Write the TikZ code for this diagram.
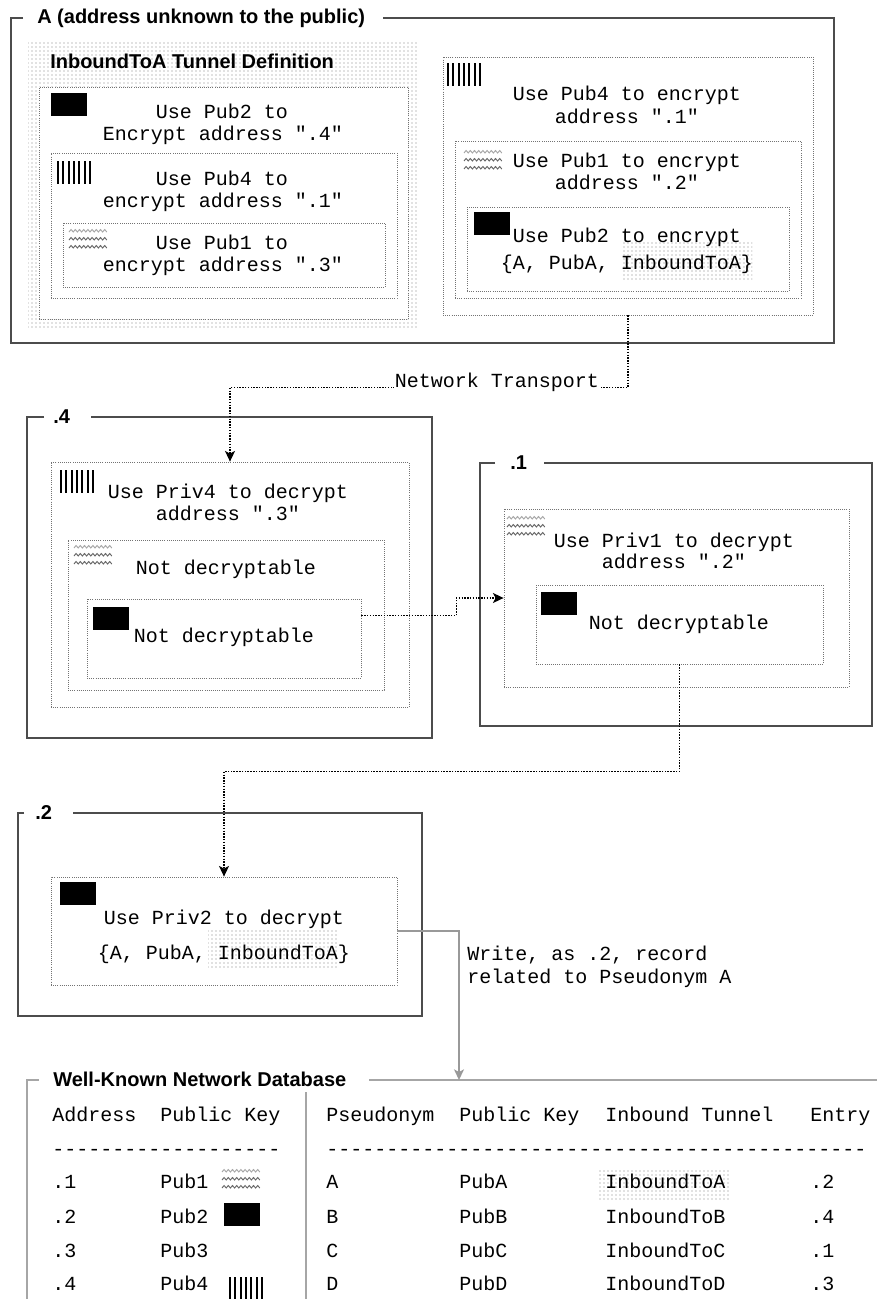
\documentclass[tikz,border=0pt]{standalone}
\usepackage{fontspec}
\newfontfamily\monof{Liberation Mono}
\newfontfamily\titlef{Liberation Sans}
\usetikzlibrary{arrows.meta,patterns,fit,calc}
\tikzset{
  mt/.style={font=\monof\fontsize{15}{18}\selectfont, inner sep=0pt, anchor=base},
  mtl/.style={mt, anchor=base west},
  ttl/.style={font=\titlef\bfseries\fontsize{15}{18}\selectfont, inner sep=0pt, anchor=base west},
  frm/.style={draw=black!70, line width=1.1pt},
  dbfrm/.style={draw=black!35, line width=1.1pt},
  dbox/.style={draw=black!55, densely dotted, line width=0.6pt, fill=white, inner sep=0pt},
  hl/.style={inner sep=0pt, pattern=dots, pattern color=black!50},
  conn/.style={draw=black, line width=1.2pt, dash pattern=on 1.1pt off 1pt, -{Stealth[length=8pt,width=7.5pt,inset=2pt]}},
  gconn/.style={draw=black!40, line width=1.1pt, -{Stealth[length=8pt,width=7.5pt,inset=2pt]}},
  hid/.style={inner sep=0pt}
}
\newcommand\keyblk[1]{\fill[black] (#1) rectangle ++(36,23);}
\newcommand\keybar[1]{\begin{scope}[shift={(#1)}]\foreach \i in {0,...,6}{\draw[line width=1.5pt] (\i*5.3+1,0) -- (\i*5.3+1,23);}\end{scope}}
\newcommand\keywav[1]{\begin{scope}[shift={(#1)}]
  \foreach \r/\c in {4/black!35,12/black!60,20/black!60}{\draw[color=\c, line width=0.7pt] (0,\r) \foreach \k in {0,...,8}{ -- ++(2.1,-2.5) -- ++(2.1,2.5)};}
  \end{scope}}
\begin{document}
\begin{tikzpicture}[x=0.75pt,y=-0.75pt]
\useasboundingbox (0,0) rectangle (877,1299);

% ===== Frame A =====
\node[hid, fit={(11,18) (834,343)}] (A) {};
\draw[frm] (23,18) -- (11,18) -- (11,343) -- (834,343) -- (834,18) -- (383,18);
\node[ttl] (tA) at (37,23) {A (address unknown to the public)};

% InboundToA tunnel definition
\node[hl, fit={(28,42) (418,328)}] (tun) {};
\node[ttl] (tTun) at (50,68) {InboundToA Tunnel Definition};
\node[dbox, fit={(39,87) (408,319)}] (l1) {};
\node[dbox, fit={(51,153) (397,298)}] (l2) {};
\node[dbox, fit={(63,223) (385,287)}] (l3) {};
\keyblk{51,93}
\keybar{57,161}
\keywav{69,228}
\node[mt] (l1a) at (222,118) {Use Pub2 to};
\node[mt] (l1b) at (223,140) {Encrypt address ".4"};
\node[mt] (l2a) at (222,185) {Use Pub4 to};
\node[mt] (l2b) at (223,207) {encrypt address ".1"};
\node[mt] (l3a) at (222,249) {Use Pub1 to};
\node[mt] (l3b) at (223,271) {encrypt address ".3"};

% right nested message
\node[dbox, fit={(443,57) (813,315)}] (r1) {};
\node[dbox, fit={(455,141) (801,298)}] (r2) {};
\node[dbox, fit={(467,207) (789,291)}] (r3) {};
\keybar{447,63}
\keywav{464,149}
\keyblk{474,212}
\node[hl, fit={(621,242) (752,280)}] (hl1) {};
\node[mt] (r1a) at (627,100) {Use Pub4 to encrypt};
\node[mt] (r1b) at (627,123) {address ".1"};
\node[mt] (r2a) at (627,167) {Use Pub1 to encrypt};
\node[mt] (r2b) at (627,189) {address ".2"};
\node[mt] (r3a) at (627,242) {Use Pub2 to encrypt};
\node[mt] (r3b) at (627,269) {\{A, PubA, InboundToA\}};

% ===== Frame .4 =====
\node[hid, fit={(27,417) (432,738)}] (F4) {};
\draw[frm] (44,417) -- (27,417) -- (27,738) -- (432,738) -- (432,417) -- (91,417);
\node[ttl] (t4) at (53,423) {.4};
\node[dbox, fit={(51,462) (409,707)}] (p4a) {};
\node[dbox, fit={(68,540) (384,690)}] (p4b) {};
\node[dbox, fit={(87,599) (361,678)}] (p4c) {};
\keybar{60,470}
\keywav{74,544}
\keyblk{93,607}
\node[mt] (p4a1) at (228,498) {Use Priv4 to decrypt};
\node[mt] (p4a2) at (228,520) {address ".3"};
\node[mt] (p4b1) at (226,574) {Not decryptable};
\node[mt] (p4c1) at (224,642) {Not decryptable};

% ===== Frame .1 =====
\node[hid, fit={(480,463) (872,726)}] (F1) {};
\draw[frm] (495,463) -- (480,463) -- (480,726) -- (872,726) -- (872,463) -- (544,463);
\node[ttl] (t1) at (510,469) {.1};
\node[dbox, fit={(504,509) (849,687)}] (p1a) {};
\node[dbox, fit={(536,585) (823,664)}] (p1b) {};
\keywav{507,515}
\keyblk{541,592}
\node[mt] (p1a1) at (674,547) {Use Priv1 to decrypt};
\node[mt] (p1a2) at (674,568) {address ".2"};
\node[mt] (p1b1) at (679,629) {Not decryptable};

% ===== Frame .2 =====
\node[hid, fit={(18,813) (422,1016)}] (F2) {};
\draw[frm] (24,813) -- (18,813) -- (18,1016) -- (422,1016) -- (422,813) -- (73,813);
\node[ttl] (t2) at (35,819) {.2};
\node[dbox, fit={(51,877) (397,985)}] (p2a) {};
\keyblk{60,882}
\node[hl, fit={(208,930) (337,967)}] (hl2) {};
\node[mt] (p2a1) at (224,924) {Use Priv2 to decrypt};
\node[mt] (p2a2) at (224,959) {\{A, PubA, InboundToA\}};

% ===== Database =====
\coordinate (dbtop) at (459,1080);
\draw[dbfrm] (39,1080) -- (27,1080) -- (27,1299);
\draw[dbfrm] (369,1080) -- (877,1080);
\draw[dbfrm] (306,1092) -- (306,1299);
\node[ttl] (tDB) at (53,1086) {Well-Known Network Database};
\node[mtl] (h1) at (52,1121) {Address};
\node[mtl] (h2) at (160,1121) {Public Key};
\node[mtl] (d1) at (52,1155) {-------------------};
\node[mtl] (a1) at (52,1188) {.1};
\node[mtl] (a2) at (52,1223) {.2};
\node[mtl] (a3) at (52,1257) {.3};
\node[mtl] (a4) at (52,1290) {.4};
\node[mtl] (k1) at (160,1188) {Pub1};
\node[mtl] (k2) at (160,1223) {Pub2};
\node[mtl] (k3) at (160,1257) {Pub3};
\node[mtl] (k4) at (160,1290) {Pub4};
\keywav{222,1168}
\keyblk{224,1203}
\keybar{229,1277}

\node[hl, fit={(599,1170) (729,1200)}] (hl3) {};
\node[mtl] (g1) at (326,1121) {Pseudonym};
\node[mtl] (g2) at (459,1121) {Public Key};
\node[mtl] (g3) at (605,1121) {Inbound Tunnel};
\node[mtl] (g4) at (810,1121) {Entry};
\node[mtl] (d2) at (326,1155) {---------------------------------------------};
\node[mtl] (s1) at (326,1188) {A};
\node[mtl] (s2) at (326,1223) {B};
\node[mtl] (s3) at (326,1257) {C};
\node[mtl] (s4) at (326,1290) {D};
\node[mtl] (u1) at (459,1188) {PubA};
\node[mtl] (u2) at (459,1223) {PubB};
\node[mtl] (u3) at (459,1257) {PubC};
\node[mtl] (u4) at (459,1290) {PubD};
\node[mtl] (i1) at (605,1188) {InboundToA};
\node[mtl] (i2) at (605,1223) {InboundToB};
\node[mtl] (i3) at (605,1257) {InboundToC};
\node[mtl] (i4) at (605,1290) {InboundToD};
\node[mtl] (e1) at (810,1188) {.2};
\node[mtl] (e2) at (810,1223) {.4};
\node[mtl] (e3) at (810,1257) {.1};
\node[mtl] (e4) at (810,1290) {.3};

% ===== Connectors =====
\draw[conn] (r1.south) -- ++(0,72) -| (p4a.north);
\node[mt, fill=white, inner sep=1pt] (nt) at (497,387) {Network Transport};
\draw[conn] ($(p4c.east)+(0,-23)$) -- ++(95,0) |- (p1a.west);
\draw[conn] (p1b.south) -- ++(0,107) -| (p2a.north);
\draw[gconn] (p2a.east) -| (dbtop);
\node[mtl] (w1) at (467,960) {Write, as .2, record};
\node[mtl] (w2) at (467,983) {related to Pseudonym A};
\end{tikzpicture}
\end{document}
